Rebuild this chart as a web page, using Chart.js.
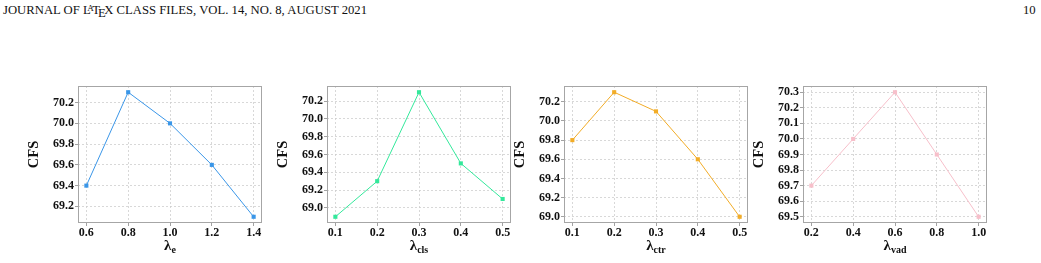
<!DOCTYPE html>
<html>
<head>
<meta charset="utf-8">
<script src="https://cdn.jsdelivr.net/npm/chart.js@4.4.0/dist/chart.umd.min.js"></script>
<style>
  html, body { margin: 0; padding: 0; background: #fff; }
  body { width: 1041px; height: 263px; position: relative; overflow: hidden; font-family: "Liberation Serif", "DejaVu Serif", serif; }
  .hdr { position: absolute; top: 3px; font-size: 12.7px; color: #111; white-space: nowrap; }
  .tex .a { font-size: 9px; vertical-align: 3px; margin-left: -3.5px; margin-right: -1.5px; }
  .tex .e { vertical-align: -3px; margin-left: -2px; margin-right: -1.5px; }
  canvas { position: absolute; }
</style>
</head>
<body>
<div class="hdr" style="left:3px;">JOURNAL OF <span class="tex">L<span class="a">A</span>T<span class="e">E</span>X</span> CLASS FILES, VOL. 14, NO. 8, AUGUST 2021</div>
<div class="hdr" style="left:1023px;">10</div>
<canvas id="c1"></canvas>
<canvas id="c2"></canvas>
<canvas id="c3"></canvas>
<canvas id="c4"></canvas>
<script>
// ---- data ----
const xE   = [0.6, 0.8, 1.0, 1.2, 1.4];
const yE   = [69.4, 70.3, 70.0, 69.6, 69.1];
const xCls = [0.1, 0.2, 0.3, 0.4, 0.5];
const yCls = [68.9, 69.3, 70.3, 69.5, 69.1];
const xCtr = [0.1, 0.2, 0.3, 0.4, 0.5];
const yCtr = [69.8, 70.3, 70.1, 69.6, 69.0];
const xVad = [0.2, 0.4, 0.6, 0.8, 1.0];
const yVad = [69.7, 70.0, 70.3, 69.9, 69.5];

const yTicksE   = [69.2, 69.4, 69.6, 69.8, 70.0, 70.2];
const yTicksCls = [69.0, 69.2, 69.4, 69.6, 69.8, 70.0, 70.2];
const yTicksCtr = [69.0, 69.2, 69.4, 69.6, 69.8, 70.0, 70.2];
const yTicksVad = [69.5, 69.6, 69.7, 69.8, 69.9, 70.0, 70.1, 70.2, 70.3];

const yLabel = "CFS";
const subE = "e", subCls = "cls", subCtr = "ctr", subVad = "vad";

// ---- layout ----
const PLOT_W = 184, PLOT_H = 137, PLOT_TOP = 86;
const Y_AXIS_W = 60, PAD_TOP = 16, PAD_RIGHT = 16, X_AXIS_H = 40;
const CANVAS_TOP = PLOT_TOP - PAD_TOP;

const FONT = "'Liberation Serif', 'Times New Roman', serif";

const boxPlugin = {
  id: 'boxPlugin',
  afterDraw(chart) {
    const {ctx, chartArea: a} = chart;
    ctx.save();
    ctx.strokeStyle = '#a6a6a6';
    ctx.lineWidth = 1;
    ctx.strokeRect(Math.round(a.left) + 0.5, Math.round(a.top) + 0.5,
                   Math.round(a.right - a.left) - 1, Math.round(a.bottom - a.top) - 1);
    // x-axis title with subscript
    const sub = chart.options.plugins.boxPlugin.sub;
    const cx = (a.left + a.right) / 2;
    const base = a.bottom + 27;
    ctx.fillStyle = '#111';
    ctx.textBaseline = 'alphabetic';
    ctx.font = "bold 15px " + FONT;
    const lw = ctx.measureText('λ').width;
    ctx.font = "bold 10px " + FONT;
    const sw = ctx.measureText(sub).width;
    const start = cx - (lw + sw) / 2;
    ctx.font = "bold 15px " + FONT;
    ctx.textAlign = 'left';
    ctx.fillText('λ', start, base);
    ctx.font = "bold 10px " + FONT;
    ctx.fillText(sub, start + lw, base + 2.5);
    ctx.restore();
  }
};

function makeChart(id, plotLeft, xs, ys, xTicks, yTicks, color, sub) {
  const cv = document.getElementById(id);
  const W = Y_AXIS_W + PLOT_W + PAD_RIGHT;
  const H = PAD_TOP + PLOT_H + X_AXIS_H;
  cv.width = W; cv.height = H;
  cv.style.width = W + 'px'; cv.style.height = H + 'px';
  cv.style.left = (plotLeft - Y_AXIS_W) + 'px';
  cv.style.top = CANVAS_TOP + 'px';

  const xr = Math.max(...xs) - Math.min(...xs);
  const yr = Math.max(...ys) - Math.min(...ys);
  const tickFont = {family: FONT, size: 12, weight: 'bold'};

  new Chart(cv, {
    type: 'line',
    data: {
      datasets: [{
        data: xs.map((x, i) => ({x: x, y: ys[i]})),
        borderColor: color,
        backgroundColor: color,
        borderWidth: 1,
        pointStyle: 'rect',
        pointRadius: 2.9,
        pointBorderWidth: 0,
        tension: 0,
        fill: false
      }]
    },
    options: {
      responsive: false,
      animation: false,
      devicePixelRatio: 1,
      layout: {padding: {top: PAD_TOP, right: PAD_RIGHT, left: 0, bottom: 0}},
      plugins: {legend: {display: false}, tooltip: {enabled: false}, boxPlugin: {sub: sub}},
      scales: {
        x: {
          type: 'linear',
          min: Math.min(...xs) - xr * 0.05,
          max: Math.max(...xs) + xr * 0.05,
          afterBuildTicks: s => { s.ticks = xTicks.map(v => ({value: v})); },
          afterFit: s => { s.height = X_AXIS_H; },
          ticks: {
            callback: v => Number(v).toFixed(1),
            font: tickFont, color: '#111', padding: 0, maxRotation: 0, autoSkip: false
          },
          grid: {color: '#cfcfcf', lineWidth: 0.8, tickLength: 3, tickColor: '#8a8a8a', tickWidth: 0.8, drawTicks: true},
          border: {display: false, dash: [2, 2]}
        },
        y: {
          type: 'linear',
          min: Math.min(...ys) - yr * 0.05,
          max: Math.max(...ys) + yr * 0.05,
          afterBuildTicks: s => { s.ticks = yTicks.map(v => ({value: v})); },
          afterFit: s => { s.width = Y_AXIS_W; },
          ticks: {
            callback: v => Number(v).toFixed(1),
            font: tickFont, color: '#111', padding: 1, autoSkip: false
          },
          title: {
            display: true, text: yLabel, color: '#111',
            font: {family: FONT, size: 14.5, weight: 'bold', lineHeight: 1},
            padding: {top: 9, bottom: 0}
          },
          grid: {color: '#cfcfcf', lineWidth: 0.8, tickLength: 3, tickColor: '#8a8a8a', tickWidth: 0.8, drawTicks: true},
          border: {display: false, dash: [2, 2]}
        }
      }
    },
    plugins: [boxPlugin]
  });
}

makeChart('c1', 78,  xE,   yE,   xE,   yTicksE,   '#3a96e8', subE);
makeChart('c2', 327, xCls, yCls, xCls, yTicksCls, '#33e89b', subCls);
makeChart('c3', 564, xCtr, yCtr, xCtr, yTicksCtr, '#f2ac27', subCtr);
makeChart('c4', 803, xVad, yVad, xVad, yTicksVad, '#f7bfca', subVad);
</script>
</body>
</html>
